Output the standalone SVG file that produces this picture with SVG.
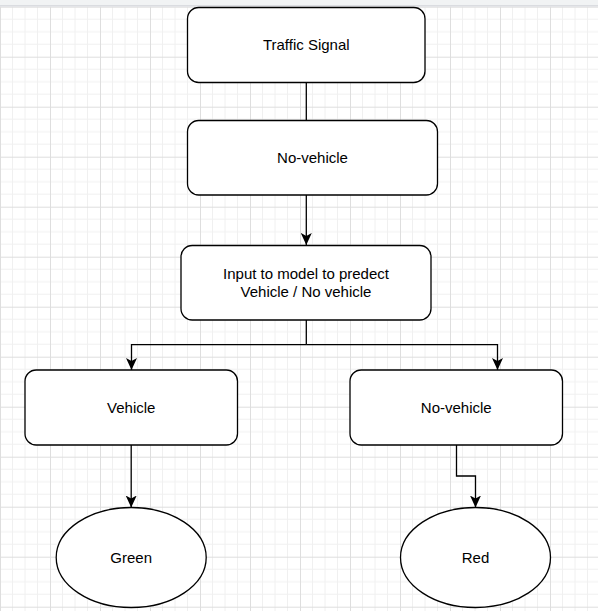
<svg xmlns="http://www.w3.org/2000/svg" width="598" height="611" viewBox="0 0 598 611">
  <style>
    .node rect, .node ellipse { fill: #ffffff; stroke: #000000; stroke-width: 1.3; }
    .node text { font-family: "Liberation Sans", Arial, sans-serif; font-size: 15px; fill: #000000; text-anchor: middle; }
    .edge { fill: none; stroke: #000000; stroke-width: 1.3; }
    .arrow { marker-end: url(#arrowhead); }
  </style>
  <defs>
    <pattern id="grid" patternUnits="userSpaceOnUse" x="0" y="6.7" width="50" height="50">
      <path d="M12.5,0 V50 M25,0 V50 M37.5,0 V50 M0,12.5 H50 M0,25 H50 M0,37.5 H50" stroke="#f0f0f0" stroke-width="1" fill="none"/>
      <path d="M0.5,0 V50 M0,0.5 H50" stroke="#dedede" stroke-width="1" fill="none"/>
    </pattern>
    <marker id="arrowhead" viewBox="0 0 12 11" refX="12" refY="5.5" markerWidth="12" markerHeight="11" markerUnits="userSpaceOnUse" orient="auto">
      <path d="M0,0 L12,5.5 L0,11 L3,5.5 Z" fill="#000000" stroke="none"/>
    </marker>
  </defs>

  <rect x="0" y="0" width="598" height="611" fill="#ffffff"/>
  <rect x="0" y="6.7" width="598" height="604.3" fill="url(#grid)"/>
  <rect x="0" y="0" width="598" height="5" fill="#f1f3f4"/>
  <rect x="0" y="5" width="598" height="1.7" fill="#dadce0"/>

  <g id="connectors">
    <path class="edge" d="M306.3,82.5 V120.5"/>
    <path class="edge arrow" d="M306.3,195 V245"/>
    <path class="edge" d="M306.3,320 V344.7"/>
    <path class="edge arrow" d="M306.3,344.7 H131.5 V370"/>
    <path class="edge arrow" d="M306.3,344.7 H497.5 V370"/>
    <path class="edge arrow" d="M131.2,445 V507.5"/>
    <path class="edge arrow" d="M456.5,445 V476 H475.5 V507.5"/>
  </g>

  <g id="traffic-signal" class="node">
    <rect x="187.5" y="7.5" width="237.5" height="75" rx="11.25" ry="11.25"/>
    <text x="306.25" y="50">Traffic Signal</text>
  </g>

  <g id="no-vehicle-top" class="node">
    <rect x="187.5" y="120.5" width="250" height="74.5" rx="11.25" ry="11.25"/>
    <text x="312.5" y="162.7">No-vehicle</text>
  </g>

  <g id="model-input" class="node">
    <rect x="181" y="245.5" width="250" height="74.5" rx="11.25" ry="11.25"/>
    <text x="306" y="279">Input to model to predect</text>
    <text x="306" y="296.7">Vehicle / No vehicle</text>
  </g>

  <g id="vehicle" class="node">
    <rect x="25" y="370" width="212.5" height="75" rx="11.25" ry="11.25"/>
    <text x="131.25" y="412.7">Vehicle</text>
  </g>

  <g id="no-vehicle" class="node">
    <rect x="350" y="370" width="212.5" height="75" rx="11.25" ry="11.25"/>
    <text x="456.25" y="412.7">No-vehicle</text>
  </g>

  <g id="green" class="node">
    <ellipse cx="131.2" cy="557.5" rx="75" ry="50"/>
    <text x="131.2" y="562.7">Green</text>
  </g>

  <g id="red" class="node">
    <ellipse cx="475.5" cy="557.5" rx="75" ry="50"/>
    <text x="475.5" y="562.7">Red</text>
  </g>
</svg>
